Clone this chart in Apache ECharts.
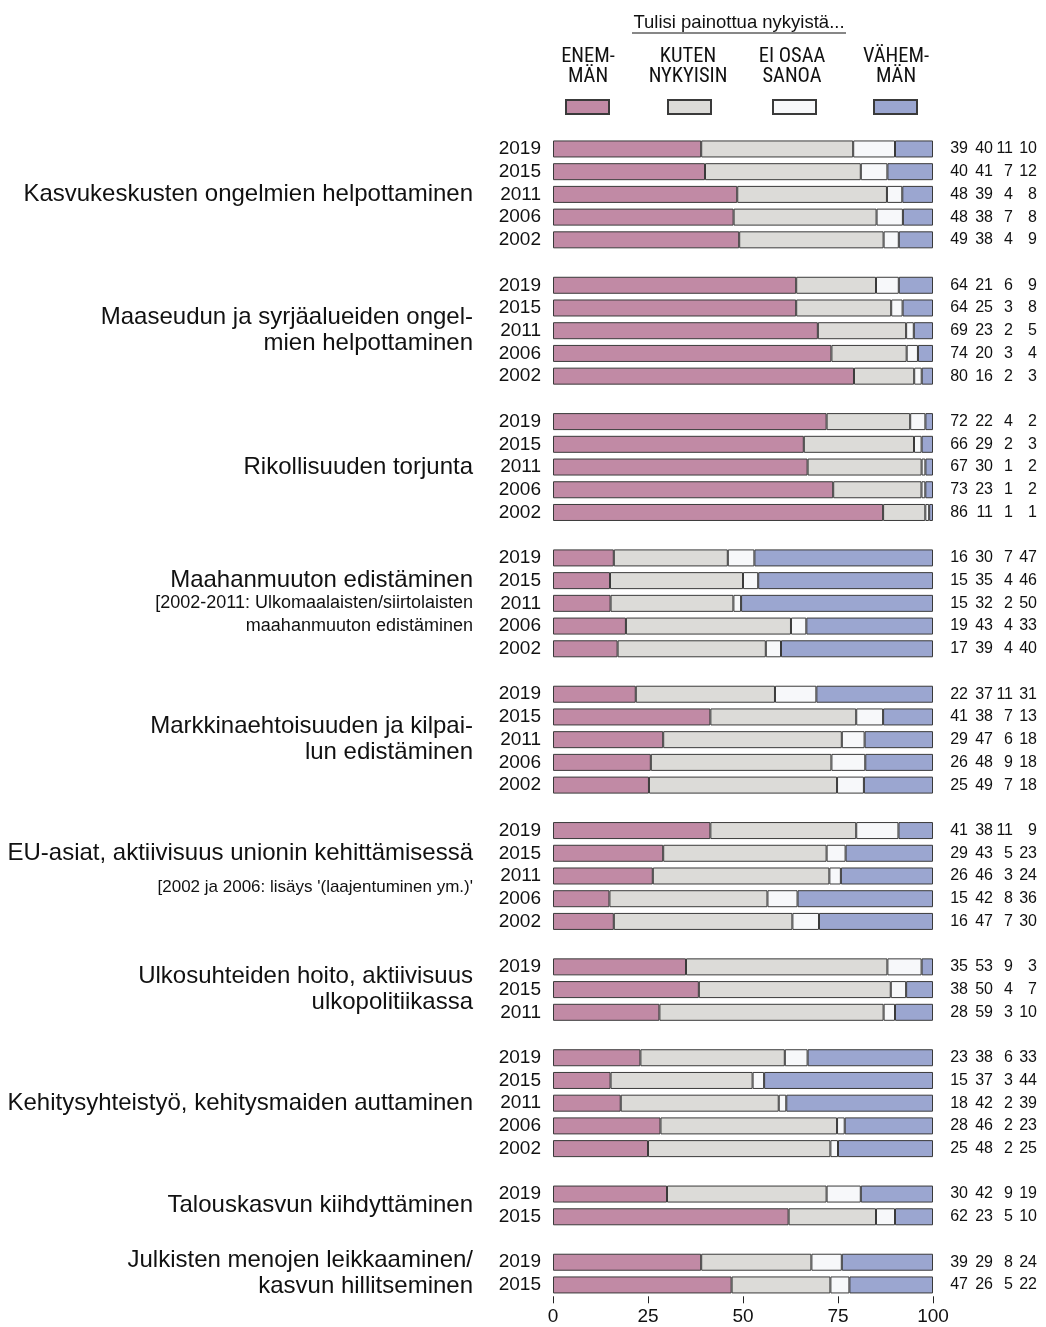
<!DOCTYPE html>
<html>
<head>
<meta charset="utf-8">
<script src="https://cdn.jsdelivr.net/npm/echarts@6/dist/echarts.min.js"></script>
<style>
  html, body { margin: 0; padding: 0; background: #fff; }
  #chart { width: 1046px; height: 1327px; }
</style>
</head>
<body>
<div id="chart"></div>
<script>
// topic labels, top to bottom
const groupNames = [
  'Kasvukeskusten ongelmien helpottaminen',
  'Maaseudun ja syrjäalueiden ongel-\nmien helpottaminen',
  'Rikollisuuden torjunta',
  'Maahanmuuton edistäminen',
  'Markkinaehtoisuuden ja kilpai-\nlun edistäminen',
  'EU-asiat, aktiivisuus unionin kehittämisessä',
  'Ulkosuhteiden hoito, aktiivisuus\nulkopolitiikassa',
  'Kehitysyhteistyö, kehitysmaiden auttaminen',
  'Talouskasvun kiihdyttäminen',
  'Julkisten menojen leikkaaminen/\nkasvun hillitseminen'
]
const groupNotes = [
  '', '', '',
  '[2002-2011: Ulkomaalaisten/siirtolaisten\nmaahanmuuton edistäminen',
  '',
  "[2002 ja 2006: lisäys '(laajentuminen ym.)'",
  '', '', '', ''
]
const groupYears = [
  ['2019', '2015', '2011', '2006', '2002'],
  ['2019', '2015', '2011', '2006', '2002'],
  ['2019', '2015', '2011', '2006', '2002'],
  ['2019', '2015', '2011', '2006', '2002'],
  ['2019', '2015', '2011', '2006', '2002'],
  ['2019', '2015', '2011', '2006', '2002'],
  ['2019', '2015', '2011'],
  ['2019', '2015', '2011', '2006', '2002'],
  ['2019', '2015'],
  ['2019', '2015']
]

// answers in %, one value per year row (same order as above)
const enemman = [39, 40, 48, 48, 49, 64, 64, 69, 74, 80, 72, 66, 67, 73, 86, 16, 15, 15, 19, 17, 22, 41, 29, 26, 25, 41, 29, 26, 15, 16, 35, 38, 28, 23, 15, 18, 28, 25, 30, 62, 39, 47]
const kuten = [40, 41, 39, 38, 38, 21, 25, 23, 20, 16, 22, 29, 30, 23, 11, 30, 35, 32, 43, 39, 37, 38, 47, 48, 49, 38, 43, 46, 42, 47, 53, 50, 59, 38, 37, 42, 46, 48, 42, 23, 29, 26]
const eiOsaa = [11, 7, 4, 7, 4, 6, 3, 2, 3, 2, 4, 2, 1, 1, 1, 7, 4, 2, 4, 4, 11, 7, 6, 9, 7, 11, 5, 3, 8, 7, 9, 4, 3, 6, 3, 2, 2, 2, 9, 5, 8, 5]
const vahemman = [10, 12, 8, 8, 9, 9, 8, 5, 4, 3, 2, 3, 2, 2, 1, 47, 46, 50, 33, 40, 31, 13, 18, 18, 18, 9, 23, 24, 36, 30, 3, 7, 10, 33, 44, 39, 23, 25, 19, 10, 24, 22]

const seriesNames = ['Enemmän', 'Kuten nykyisin', 'Ei osaa sanoa', 'Vähemmän']
const legendLabels = ['ENEM-\nMÄN', 'KUTEN\nNYKYISIN', 'EI OSAA\nSANOA', 'VÄHEM-\nMÄN']
const xTicks = [0, 25, 50, 75, 100]

const colors = ['#c18aa5', '#dcdbd8', '#f7f8fa', '#9ba6d0']
const FONT = '"Liberation Sans", Arial, sans-serif'

// build category rows (with an empty row between topics)
const rowKeys = []
const rowLabels = []
const rowOfItem = []
const groupSpans = []
groupYears.forEach((years, g) => {
  if (g > 0) { rowKeys.push('gap' + g); rowLabels.push('') }
  const first = rowKeys.length
  years.forEach(y => {
    rowOfItem.push(rowKeys.length)
    rowKeys.push(g + '-' + y)
    rowLabels.push(y)
  })
  groupSpans.push([first, rowKeys.length - 1, g])
})

const answers = [enemman, kuten, eiOsaa, vahemman]
const rowTotal = enemman.map((v, i) => v + kuten[i] + eiOsaa[i] + vahemman[i])

const barSeries = answers.map((arr, s) => {
  const data = rowKeys.map(() => '-')
  arr.forEach((v, i) => { data[rowOfItem[i]] = v / rowTotal[i] * 100 })
  return {
    name: seriesNames[s],
    type: 'bar',
    stack: 'all',
    barWidth: 17,
    data,
    itemStyle: { color: colors[s], borderColor: '#3a3a3a', borderWidth: 1 },
    emphasis: { disabled: true },
    z: 2
  }
})

const numberData = enemman.map((v, i) => [rowOfItem[i], 50, v, kuten[i], eiOsaa[i], vahemman[i]])
const numberOffsets = [35, 60, 80, 104]

const numberSeries = {
  type: 'custom',
  data: numberData,
  encode: { y: 0, x: 1 },
  silent: true,
  renderItem: (params, api) => {
    const p = api.coord([100, api.value(0)])
    return {
      type: 'group',
      children: numberOffsets.map((off, k) => ({
        type: 'text',
        style: {
          text: String(api.value(2 + k)),
          x: p[0] + off,
          y: p[1],
          align: 'right',
          verticalAlign: 'middle',
          fontSize: 16,
          fontFamily: FONT,
          fill: '#111'
        }
      }))
    }
  }
}

const labelSeries = {
  type: 'custom',
  data: groupSpans,
  encode: { y: 0, x: 2 },
  silent: true,
  renderItem: (params, api) => {
    const first = api.value(0)
    const last = api.value(1)
    const g = api.value(2)
    const a = api.coord([0, first])
    const b = api.coord([0, last])
    const rowH = api.size([0, 1])[1]
    const note = groupNotes[g]
    let text
    if (note) {
      const noteLines = note.split('\n')
      const nStyle = noteLines.length === 1 ? 'n2' : 'n'
      text = '{m|' + groupNames[g] + '}\n' + noteLines.map(l => '{' + nStyle + '|' + l + '}').join('\n')
    } else {
      text = groupNames[g].split('\n').map(l => '{t|' + l + '}').join('\n')
    }
    return {
      type: 'text',
      style: {
        text,
        x: a[0] - 80,
        y: (a[1] + b[1]) / 2,
        align: 'right',
        verticalAlign: 'middle',
        rich: {
          t: { fontSize: 24, lineHeight: 26, fontFamily: FONT, fill: '#111', align: 'right' },
          m: { fontSize: 24, lineHeight: rowH, fontFamily: FONT, fill: '#111', align: 'right' },
          n: { fontSize: 18, lineHeight: rowH, fontFamily: FONT, fill: '#111', align: 'right' },
          n2: { fontSize: 17, lineHeight: rowH * 2, fontFamily: FONT, fill: '#111', align: 'right' }
        }
      }
    }
  }
}

const legendX = [565, 667, 772, 873]
const legendTextX = [588, 688, 792, 896]

const option = {
  animation: false,
  backgroundColor: '#fff',
  grid: { left: 553, right: 113, top: 137.6, bottom: 30.7, containLabel: false },
  legend: seriesNames.map((n, i) => ({
    data: [n],
    left: legendX[i],
    top: 99,
    icon: 'rect',
    itemWidth: 43,
    itemHeight: 14,
    formatter: () => '',
    selectedMode: false,
    padding: 0
  })),
  xAxis: {
    type: 'value',
    min: 0,
    max: 100,
    interval: 25,
    axisLine: { show: false },
    axisTick: { show: true, length: 7, lineStyle: { color: '#222' } },
    splitLine: { show: false },
    axisLabel: {
      fontSize: 19,
      fontFamily: FONT,
      color: '#111',
      margin: 11,
      formatter: v => (xTicks.includes(v) ? String(v) : '')
    }
  },
  yAxis: {
    type: 'category',
    inverse: true,
    data: rowKeys,
    axisLine: { show: false },
    axisTick: { show: false },
    axisLabel: {
      fontSize: 19,
      fontFamily: FONT,
      color: '#111',
      margin: 12,
      interval: 0,
      formatter: (v, i) => rowLabels[i]
    }
  },
  graphic: [
    {
      type: 'text',
      x: 739,
      y: 23,
      style: { text: 'Tulisi painottua nykyistä...', align: 'center', verticalAlign: 'middle', fontSize: 18.5, fontFamily: FONT, fill: '#111' }
    },
    {
      type: 'line',
      shape: { x1: 632, y1: 33, x2: 846, y2: 33 },
      style: { stroke: '#111', lineWidth: 1.2 }
    },
    ...legendLabels.map((t, i) => ({
      type: 'text',
      x: legendTextX[i],
      y: 47,
      style: {
        text: t,
        align: 'center',
        verticalAlign: 'top',
        fontSize: 20.5,
        lineHeight: 20,
        fontFamily: '"Liberation Sans Narrow", "Roboto Condensed", "Liberation Sans", sans-serif',
        fill: '#111'
      }
    }))
  ],
  series: [...barSeries, numberSeries, labelSeries]
}

const chart = echarts.init(document.getElementById('chart'))
chart.setOption(option)
</script>
</body>
</html>
